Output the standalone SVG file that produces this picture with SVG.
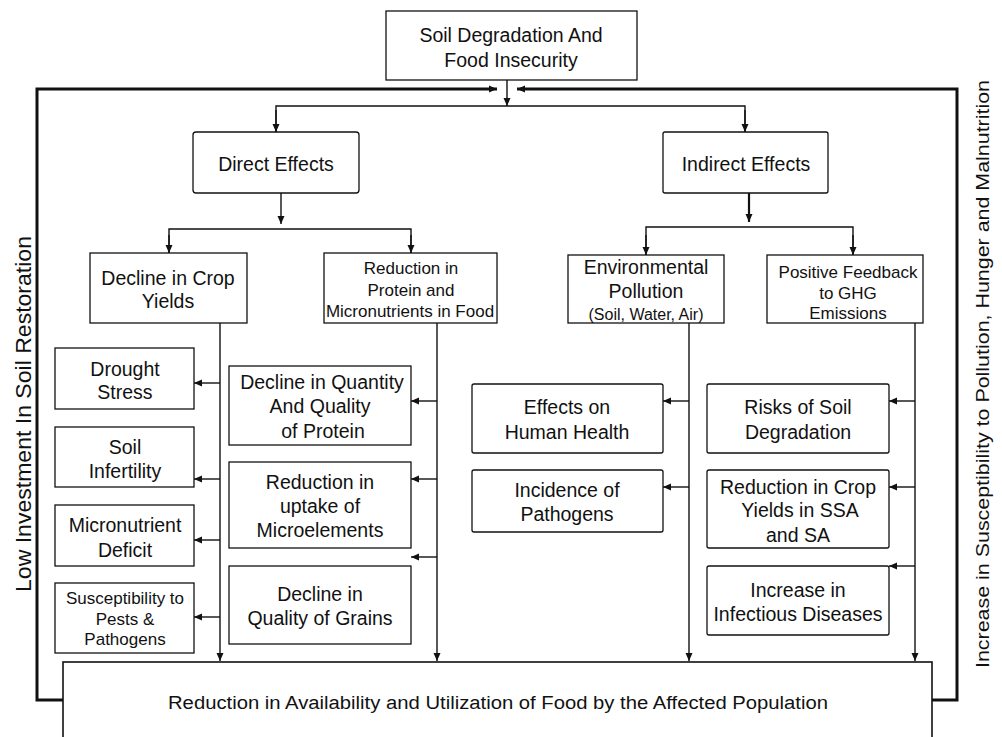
<svg xmlns="http://www.w3.org/2000/svg" width="1002" height="737" viewBox="0 0 1002 737">
<style>
.box{fill:#fff;stroke:#111;stroke-width:1.3}
.t{font-family:"Liberation Sans",Arial,sans-serif;font-size:19.5px;fill:#111;text-anchor:middle}
.s{font-size:17px}
.c{fill:none;stroke:#111;stroke-width:1.4}
.k{fill:none;stroke:#111;stroke-width:3}
</style>
<defs>
<marker id="a" markerUnits="userSpaceOnUse" markerWidth="9" markerHeight="9" refX="8" refY="4" orient="auto">
<path d="M0,0.5 L8,4 L0,7.5 z" fill="#111"/>
</marker>
</defs>
<rect width="1002" height="737" fill="#fff"/>
<g id="connectors">
<polyline class="k" points="63,700 37,700 37,89 497,89" marker-end="url(#a)"/>
<polyline class="k" points="932,700 957,700 957,89 517,89" marker-end="url(#a)"/>
<line class="c" x1="507" y1="80" x2="507" y2="106" marker-end="url(#a)"/>
<polyline class="c" points="276,132 276,106 745,106 745,132"/>
<line class="c" x1="276" y1="110" x2="276" y2="132" marker-end="url(#a)"/>
<line class="c" x1="745" y1="110" x2="745" y2="132" marker-end="url(#a)"/>
<line class="c" x1="281" y1="193" x2="281" y2="224" marker-end="url(#a)"/>
<polyline class="c" points="169,253 169,229 411,229 411,253"/>
<line class="c" x1="169" y1="235" x2="169" y2="253" marker-end="url(#a)"/>
<line class="c" x1="411" y1="235" x2="411" y2="253" marker-end="url(#a)"/>
<line class="c" style="stroke-width:2.2" x1="749" y1="193" x2="749" y2="222" marker-end="url(#a)"/>
<polyline class="c" points="646,255 646,227 853,227 853,255"/>
<line class="c" x1="646" y1="235" x2="646" y2="255" marker-end="url(#a)"/>
<line class="c" x1="853" y1="235" x2="853" y2="255" marker-end="url(#a)"/>
<line class="c" x1="220" y1="323" x2="220" y2="661" marker-end="url(#a)"/>
<line class="c" x1="437" y1="323" x2="437" y2="661" marker-end="url(#a)"/>
<line class="c" x1="689" y1="323" x2="689" y2="661" marker-end="url(#a)"/>
<line class="c" x1="915" y1="323" x2="915" y2="661" marker-end="url(#a)"/>
<line class="c" x1="220" y1="383" x2="194" y2="383" marker-end="url(#a)"/>
<line class="c" x1="220" y1="479" x2="194" y2="479" marker-end="url(#a)"/>
<line class="c" x1="220" y1="540" x2="194" y2="540" marker-end="url(#a)"/>
<line class="c" x1="220" y1="617" x2="194" y2="617" marker-end="url(#a)"/>
<line class="c" x1="437" y1="401" x2="411" y2="401" marker-end="url(#a)"/>
<line class="c" x1="437" y1="479" x2="411" y2="479" marker-end="url(#a)"/>
<line class="c" x1="437" y1="557" x2="411" y2="557" marker-end="url(#a)"/>
<line class="c" x1="689" y1="401" x2="663" y2="401" marker-end="url(#a)"/>
<line class="c" x1="689" y1="487" x2="663" y2="487" marker-end="url(#a)"/>
<line class="c" x1="915" y1="401" x2="889" y2="401" marker-end="url(#a)"/>
<line class="c" x1="915" y1="487" x2="889" y2="487" marker-end="url(#a)"/>
<line class="c" x1="915" y1="566" x2="889" y2="566" marker-end="url(#a)"/>
</g>
<g id="top"><rect class="box" x="386" y="11" width="251" height="69"/>
<text class="t" x="511" y="42">Soil Degradation And</text><text class="t" x="511" y="67">Food Insecurity</text></g>
<g id="direct"><rect class="box" x="193" y="132" width="166" height="61" rx="3"/>
<text class="t" x="276" y="171">Direct Effects</text></g>
<g id="indirect"><rect class="box" x="663" y="132" width="165" height="61" rx="2"/>
<text class="t" x="746" y="171">Indirect Effects</text></g>
<g id="crop"><rect class="box" x="90" y="253" width="157" height="70"/>
<text class="t" x="168" y="285">Decline in Crop</text><text class="t" x="168" y="308">Yields</text></g>
<g id="protein"><rect class="box" x="324" y="253" width="173" height="70"/>
<text class="t s" x="411" y="274">Reduction in</text><text class="t s" x="411" y="296">Protein and</text><text class="t s" x="410" y="317">Micronutrients in Food</text></g>
<g id="env"><rect class="box" x="568" y="255" width="156" height="68"/>
<text class="t" x="646" y="274">Environmental</text><text class="t" x="646" y="298">Pollution</text><text class="t" style="font-size:16px" x="646" y="320">(Soil, Water, Air)</text></g>
<g id="ghg"><rect class="box" x="767" y="255" width="156" height="68"/>
<text class="t s" x="848" y="278">Positive Feedback</text><text class="t s" x="848" y="299">to GHG</text><text class="t s" x="848" y="319">Emissions</text></g>
<g id="drought"><rect class="box" x="55" y="348" width="139" height="61"/>
<text class="t" x="125" y="376">Drought</text><text class="t" x="125" y="399">Stress</text></g>
<g id="infertility"><rect class="box" x="55" y="427" width="139" height="60"/>
<text class="t" x="125" y="454">Soil</text><text class="t" x="125" y="478">Infertility</text></g>
<g id="micro"><rect class="box" x="55" y="505" width="139" height="61"/>
<text class="t" x="125" y="532">Micronutrient</text><text class="t" x="125" y="557">Deficit</text></g>
<g id="pests"><rect class="box" x="55" y="583" width="139" height="70"/>
<text class="t s" x="125" y="604">Susceptibility to</text><text class="t s" x="125" y="625">Pests &amp;</text><text class="t s" x="125" y="645">Pathogens</text></g>
<g id="quantity"><rect class="box" x="229" y="366" width="182" height="79"/>
<text class="t" x="322" y="389">Decline in Quantity</text><text class="t" x="320" y="413">And Quality</text><text class="t" x="323" y="438">of Protein</text></g>
<g id="uptake"><rect class="box" x="229" y="462" width="182" height="86"/>
<text class="t" x="320" y="489">Reduction in</text><text class="t" x="320" y="513">uptake of</text><text class="t" x="320" y="537">Microelements</text></g>
<g id="grains"><rect class="box" x="229" y="566" width="182" height="78"/>
<text class="t" x="320" y="601">Decline in</text><text class="t" x="320" y="625">Quality of Grains</text></g>
<g id="health"><rect class="box" x="472" y="384" width="191" height="69" rx="2"/>
<text class="t" x="567" y="414">Effects on</text><text class="t" x="567" y="439">Human Health</text></g>
<g id="pathogens"><rect class="box" x="472" y="470" width="191" height="62" rx="2"/>
<text class="t" x="567" y="497">Incidence of</text><text class="t" x="567" y="521">Pathogens</text></g>
<g id="risks"><rect class="box" x="707" y="384" width="182" height="69" rx="2"/>
<text class="t" x="798" y="414">Risks of Soil</text><text class="t" x="798" y="439">Degradation</text></g>
<g id="ssa"><rect class="box" x="707" y="470" width="182" height="78" rx="2"/>
<text class="t" x="798" y="494">Reduction in Crop</text><text class="t" x="800" y="517">Yields in SSA</text><text class="t" x="798" y="542">and SA</text></g>
<g id="infectious"><rect class="box" x="707" y="566" width="182" height="69" rx="2"/>
<text class="t" x="798" y="597">Increase in</text><text class="t" x="798" y="621">Infectious Diseases</text></g>
<g id="bottom"><rect class="box" style="stroke-width:1.6" x="63" y="662" width="869" height="90"/>
<text class="t" style="font-size:18px" x="498" y="709" textLength="660" lengthAdjust="spacingAndGlyphs">Reduction in Availability and Utilization of Food by the Affected Population</text></g>
<g id="side-left"><text class="t" style="font-size:22px" transform="translate(31,414) rotate(-90)" textLength="356" lengthAdjust="spacingAndGlyphs">Low Investment In Soil Restoration</text></g>
<g id="side-right"><text class="t" style="font-size:19px" transform="translate(989,374) rotate(-90)" textLength="588" lengthAdjust="spacingAndGlyphs">Increase in Susceptibility to Pollution, Hunger and Malnutrition</text></g>
</svg>
